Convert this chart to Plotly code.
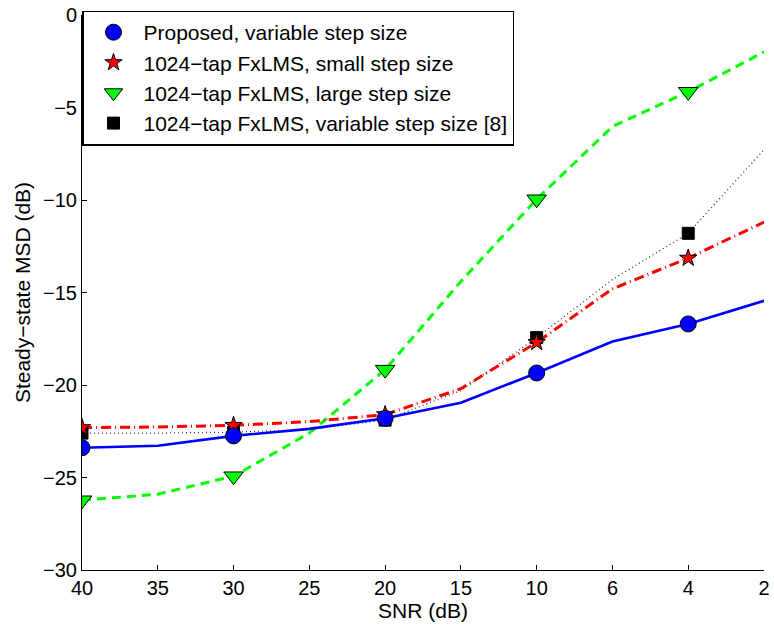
import plotly.graph_objects as go

snr = ["40", "35", "30", "25", "20", "15", "10", "6", "4", "2"]
marker_snr = ["40", "30", "20", "10", "4"]

proposed = [-23.39, -23.28, -22.75, -22.37, -21.8, -20.96, -19.35, -17.65, -16.7, -15.45]
small_step = [-22.3, -22.27, -22.18, -21.98, -21.6, -20.2, -17.7, -14.8, -13.14, -11.2]
large_step = [-26.23, -25.9, -24.93, -22.6, -19.17, -14.4, -9.96, -6.03, -4.15, -2.0]
variable8 = [-22.6, -22.6, -22.55, -22.4, -21.9, -20.3, -17.44, -14.3, -11.8, -7.28]

names = [
    "Proposed, variable step size",
    "1024\u2212tap FxLMS, small step size",
    "1024\u2212tap FxLMS, large step size",
    "1024\u2212tap FxLMS, variable step size [8]",
]

def pick(vals):
    return [v for s, v in zip(snr, vals) if s in marker_snr]

fig = go.Figure()

# lines (no legend)
fig.add_trace(go.Scatter(x=snr, y=variable8, mode="lines", showlegend=False,
                         line=dict(color="#333333", width=1.3, dash="1px,3px")))
fig.add_trace(go.Scatter(x=snr, y=large_step, mode="lines", showlegend=False,
                         line=dict(color="#00ff00", width=3, dash="9px,6px")))
fig.add_trace(go.Scatter(x=snr, y=small_step, mode="lines", showlegend=False,
                         line=dict(color="red", width=3, dash="10px,4px,1px,4px")))
fig.add_trace(go.Scatter(x=snr, y=proposed, mode="lines", showlegend=False,
                         line=dict(color="blue", width=2.6)))

# markers (legend)
fig.add_trace(go.Scatter(x=marker_snr, y=pick(variable8), mode="markers", name=names[3],
                         marker=dict(symbol="square", size=12, color="black",
                                     line=dict(color="black", width=1)), legendrank=4))
fig.add_trace(go.Scatter(x=marker_snr, y=pick(large_step), mode="markers", name=names[2],
                         marker=dict(symbol="triangle-down", size=17, color="#00ff00",
                                     line=dict(color="black", width=1)), legendrank=3))
fig.add_trace(go.Scatter(x=marker_snr, y=pick(small_step), mode="markers", name=names[1],
                         marker=dict(symbol="star", size=13, color="red",
                                     line=dict(color="black", width=1)), legendrank=2))
fig.add_trace(go.Scatter(x=marker_snr, y=pick(proposed), mode="markers", name=names[0],
                         marker=dict(symbol="circle", size=16, color="blue",
                                     line=dict(color="black", width=1)), legendrank=1))

tick_font = dict(family="Liberation Sans, Arial, sans-serif", size=20, color="black")
label_font = dict(family="Liberation Sans, Arial, sans-serif", size=21, color="black")

fig.update_layout(
    width=774, height=626,
    margin=dict(l=82, r=4, t=11, b=56),
    paper_bgcolor="white", plot_bgcolor="white",
    font=tick_font,
    showlegend=True,
    legend=dict(x=0, y=1.008, xanchor="left", yanchor="top",
                bordercolor="black", borderwidth=1.5, bgcolor="white",
                font=label_font,
                itemsizing="trace", itemwidth=50, tracegroupgap=0),
    xaxis=dict(type="category", categoryorder="array", categoryarray=snr,
               range=[0, 9], showline=True, linecolor="black", linewidth=1,
               ticks="inside", ticklen=5, tickcolor="black", showgrid=False,
               zeroline=False, tickfont=tick_font,
               title=dict(text="SNR (dB)", font=label_font, standoff=1)),
    yaxis=dict(range=[-30, 0], tickvals=[0, -5, -10, -15, -20, -25, -30],
               showline=True, linecolor="black", linewidth=1,
               ticks="inside", ticklen=5, tickcolor="black", showgrid=False,
               zeroline=False, tickfont=tick_font,
               title=dict(text="Steady\u2212state MSD (dB)", font=label_font, standoff=6)),
)

fig.write_html("out.html")
